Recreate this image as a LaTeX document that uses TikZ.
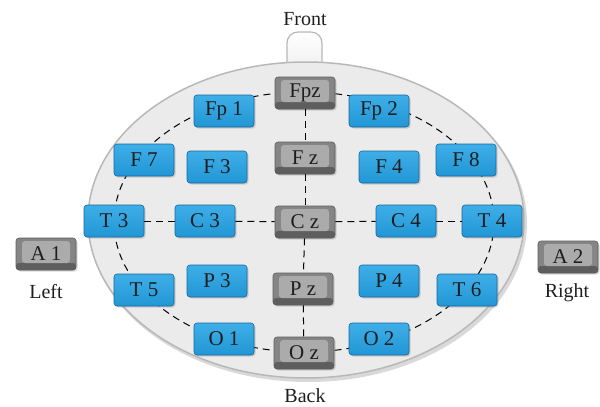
\documentclass[tikz,border=0pt]{standalone}
\usepackage{fontspec}
\setmainfont{Liberation Serif}
\usetikzlibrary{shadows}
\definecolor{headfill}{HTML}{EBEBEB}
\definecolor{headline}{HTML}{B8B8B8}
\definecolor{bluefill}{HTML}{2197D5}
\definecolor{bluetop}{HTML}{3FAEE8}
\definecolor{blueline}{HTML}{17679A}
\definecolor{kcside}{HTML}{858585}
\definecolor{kcbottom}{HTML}{5E5E5E}
\definecolor{kcface}{HTML}{ABABAB}
\definecolor{txt}{HTML}{1E1E1E}
\tikzset{
  elec/.style={rounded corners=3pt, minimum width=60pt, minimum height=32pt,
    inner sep=0pt, font=\fontsize{21}{23}\selectfont, text=txt},
  bluekey/.style={elec, top color=bluetop, bottom color=bluefill, draw=blueline, line width=0.6pt,
    drop shadow={shadow xshift=1.5pt, shadow yshift=-1.5pt, opacity=0.3}},
  graykey/.style={elec, fill=kcside, draw=kcbottom, line width=0.6pt,
    drop shadow={shadow xshift=1.5pt, shadow yshift=-1.5pt, opacity=0.3},
    path picture={
      \fill[kcbottom] (path picture bounding box.south west) rectangle
        ([yshift=7pt]path picture bounding box.south east);
      \fill[kcface] ([xshift=6pt,yshift=-3pt]path picture bounding box.north west) rectangle
        ([xshift=-6pt,yshift=7pt]path picture bounding box.south east);
    }},
  lbl/.style={font=\fontsize{20}{22}\selectfont, text=txt},
  dashline/.style={dash pattern=on 7pt off 5pt, line width=1pt, black}
}
\begin{document}
\begin{tikzpicture}[x=1pt,y=-1pt]
\useasboundingbox (0,0) rectangle (600,407);
% nose
\draw[headline, line width=1.2pt, top color=white, bottom color=headfill, rounded corners=11pt]
  (287,80) -- (287,32) -- (322,32) -- (322,80);
% head
\fill[black, opacity=0.15] (308,223) ellipse [x radius=219, y radius=159];
\draw[headline, line width=1.5pt, fill=headfill] (306,220) ellipse [x radius=218, y radius=158];
% dashed ellipse
\draw[dashline] (304,222) ellipse [x radius=190, y radius=130];

% nodes
\node[graykey] (Fpz) at (305,93) {Fpz};
\node[bluekey] (Fp1) at (224,111) {Fp 1};
\node[bluekey] (Fp2) at (379,111) {Fp 2};
\node[bluekey] (F7) at (144,160) {F 7};
\node[bluekey] (F3) at (217,167) {F 3};
\node[graykey] (Fz) at (305,158) {F z};
\node[bluekey] (F4) at (389,167) {F 4};
\node[bluekey] (F8) at (466,160) {F 8};
\node[bluekey] (T3) at (114,221) {T 3};
\node[bluekey] (C3) at (205,221) {C 3};
\node[graykey] (Cz) at (305,222) {C z};
\node[bluekey] (C4) at (406,221) {C 4};
\node[bluekey] (T4) at (492,221) {T 4};
\node[bluekey] (T5) at (144,290) {T 5};
\node[bluekey] (P3) at (217,281) {P 3};
\node[graykey] (Pz) at (303,289) {P z};
\node[bluekey] (P4) at (389,281) {P 4};
\node[bluekey] (T6) at (467,290) {T 6};
\node[bluekey] (O1) at (224,339) {O 1};
\node[graykey] (Oz) at (304,353) {O z};
\node[bluekey] (O2) at (379,339) {O 2};
\node[graykey] (A1) at (46,254) {A 1};
\node[graykey] (A2) at (568,257) {A 2};

% midline connectors
\draw[dashline] (Fpz) -- (Fz);
\draw[dashline] (Fz) -- (Cz);
\draw[dashline] (Cz) -- (Pz);
\draw[dashline] (Pz) -- (Oz);
\draw[dashline] (T3) -- (C3);
\draw[dashline] (C3) -- (Cz);
\draw[dashline] (Cz) -- (C4);
\draw[dashline] (C4) -- (T4);

% labels
\node[lbl] (front) at (305,19) {Front};
\node[lbl] (back) at (305,396) {Back};
\node[lbl] (left) at (46,292) {Left};
\node[lbl] (right) at (567,293) {Right};
\end{tikzpicture}
\end{document}
